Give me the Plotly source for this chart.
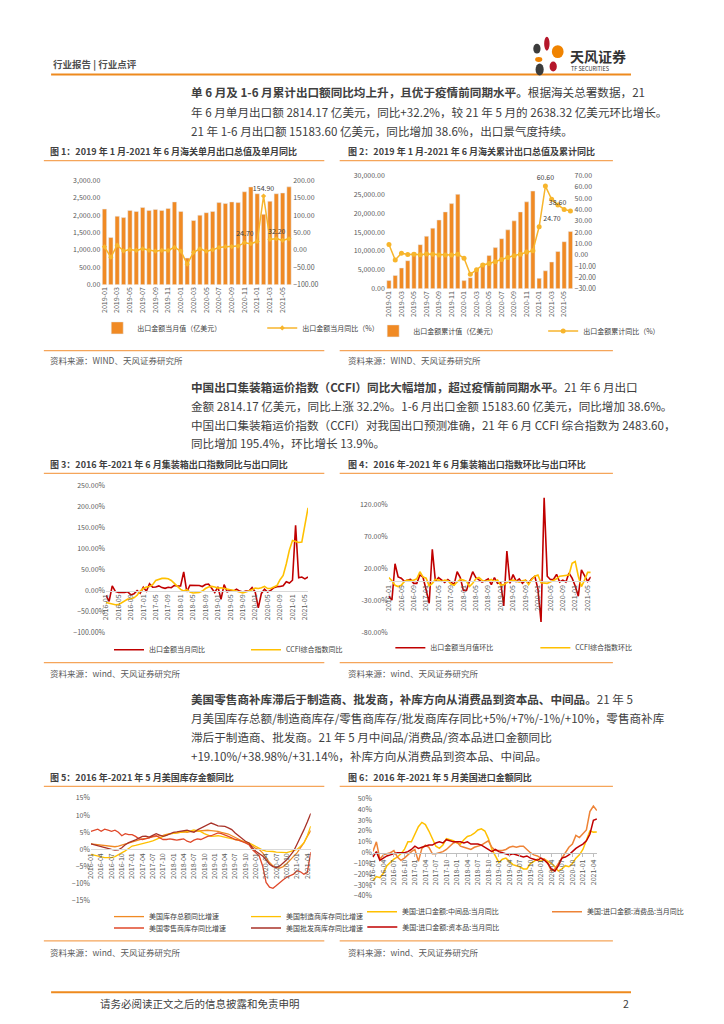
import plotly.graph_objects as go
import pandas as pd

W, H = 724, 1024
FONT = "Noto Sans CJK SC"

# ---------------- data ----------------
months_1921 = pd.date_range("2019-01", periods=30, freq="MS").strftime("%Y-%m").tolist()
ticks_fig12 = ["2019-01", "2019-03", "2019-05", "2019-07", "2019-09", "2019-11",
               "2020-01", "2020-03", "2020-05", "2020-07", "2020-09", "2020-11",
               "2021-01", "2021-03", "2021-05"]

export_monthly = [2175, 1359, 1969, 1931, 2138, 2109, 2222, 2138, 2166, 2138, 2194, 2381,
                  2109, 769, 1847, 2000, 2072, 2109, 2362, 2334, 2381, 2362, 2672, 2812,
                  2616, 2025, 2400, 2616, 2638, 2814]
export_monthly_yoy = [9.1, -20.7, 14.0, -2.7, 1.1, -1.3, 3.3, -1.0, -3.2, -0.9, -1.1, 7.6,
                      -3.0, -40.6, -6.6, 3.5, -3.3, 0.5, 7.2, 9.5, 9.9, 11.4, 21.1, 18.1,
                      24.7, 154.9, 30.6, 32.3, 27.9, 32.2]
labels_fig1 = {"2021-01": "top left", "2021-02": "top center", "2021-06": "top left"}

export_cum = [2175, 3534, 5503, 7434, 9572, 11681, 13903, 16041, 18207, 20345, 22539, 24990,
              2163, 2941, 4717, 6717, 8789, 10898, 13260, 15594, 17975, 20337, 23009, 25864,
              2768, 4760, 7090, 9860, 12456, 15184]
export_cum_yoy = [9.1, -4.6, 1.4, 0.2, 0.5, 0.1, 0.6, 0.4, -0.1, -0.2, -0.3, 0.5,
                  -3.0, -17.2, -13.3, -9.0, -7.7, -6.2, -4.1, -2.3, -0.8, 0.5, 2.5, 3.6,
                  24.7, 60.6, 49.0, 44.0, 40.0, 38.6]
labels_fig2 = {"2021-01": "top right", "2021-02": "top center", "2021-06": "top left"}

months_16_66 = pd.date_range("2016-01", periods=66, freq="MS").strftime("%Y-%m").tolist()
ticks_fig34 = ["2016-01", "2016-05", "2016-09", "2017-01", "2017-05", "2017-09",
               "2018-01", "2018-05", "2018-09", "2019-01", "2019-05", "2019-09",
               "2020-01", "2020-05", "2020-09", "2021-01", "2021-05"]

export_yoy_66 = [-11.2, -25.4, 11.5, -1.8, -4.1, -4.8, -4.4, -2.8, -10.0, -7.3, 0.1, -6.1,
                 7.9, -1.3, 16.4, 8.0, 8.7, 11.3, 7.2, 5.5, 8.1, 6.9, 12.3, 10.9,
                 11.1, 44.5, -2.7, 12.9, 12.6, 11.3, 12.2, 9.8, 14.5, 15.6, 5.4, -4.4,
                 9.1, -20.7, 14.2, -2.7, 1.1, -1.3, 3.3, -1.0, -3.2, -0.9, -1.1, 7.6,
                 -3.0, -40.6, -6.6, 3.5, -3.3, 0.5, 7.2, 9.5, 9.9, 11.4, 21.1, 18.1,
                 24.7, 154.9, 30.6, 32.3, 27.9, 32.2]
ccfi_yoy_66 = [-28, -30, -32, -33.5, -33, -29, -24, -20, -19, -17, -11, -1,
               5, 8.6, 10, 14, 24, 27, 29, 29, 28, 24, 18, 10,
               3, -1, 2.3, -3, -5.5, -5.5, -4, -1, 5, 8.6, 10, 8.6,
               6, 7, 5, 3, 2.3, 1, -1, -4, -5.5, -3, -1, 2.3,
               6, 5, 7, 10, 5, 5, 8.6, 12, 26, 36, 63, 96,
               119, 116, 114, 115, 157, 196]

export_mom_66 = [-23, -29, 27.5, 7, 5, 0, 2, 3, -3, -3, 10, 6.5,
                 -13, -34, 50, 0, 6, 2.6, -1.5, 3, -1, -5, 15, 6,
                 -14, -14, 1, 15, 6, 2, -1, 1, 4, -5, 6, -3,
                 -2, -38, 47, -3, 10.5, 0, 4, -3, 1.6, -2.4, 4, 7.8,
                 -12, -63, 130, 8, 3, 3, 11, -1, 2, -1, 13, 5,
                 -7, -23, 18, 9, 0, 7]
ccfi_mom_66 = [6, 1, -6, -8, -6, 0, 2, 1, 2, 4, 15, 7,
               5, -7, -3, 3, 2, 0, 2, 1, -4, -6, -1, 3,
               2, 0, -8, -3, 4, 6, 2, 0, 1, 3, 0, 2,
               -6, -5, -2, 1, 2, 0, -1, 1, 2, -5, 3, 8,
               10, -2, -2, -3, -1, 1, 4, 8, 9, 9, 10, 28,
               31, 8, -8, 2, 14, 14]
yticks_fig4 = [-80, -30, 20, 70, 120]
yticktext_fig4 = ["-80.00%", "-30.00%", "20.00%", "70.00%", "120.00%"]

months_16_65 = pd.date_range("2016-01", periods=65, freq="MS").strftime("%Y-%m").tolist()
ticks_fig56 = ["2016-01", "2016-04", "2016-07", "2016-10", "2017-01", "2017-04", "2017-07",
               "2017-10", "2018-01", "2018-04", "2018-07", "2018-10", "2019-01", "2019-04",
               "2019-07", "2019-10", "2020-01", "2020-04", "2020-07", "2020-10", "2021-01",
               "2021-04"]

inv_total = [1.6, 1.5, 1.4, 1.2, 1.1, 1.0, 0.9, 0.8, 1.0, 1.3, 1.6, 1.9,
             2.3, 2.6, 3.0, 3.1, 3.2, 3.5, 3.7, 3.8, 3.9, 4.1, 4.4, 4.6,
             4.7, 4.8, 5.0, 5.1, 5.0, 5.2, 5.3, 5.4, 5.3, 5.5, 5.6, 5.5,
             5.5, 5.3, 5.0, 4.8, 4.5, 4.0, 3.5, 3.0, 2.4, 2.0, 1.6, 1.0,
             0.3, 0.0, -1.0, -2.4, -3.8, -4.8, -5.3, -5.4, -5.0, -4.2, -3.0, -2.0,
             -1.0, 0.5, 1.9, 3.8, 5.5]
inv_manu = [-1.4, -1.7, -1.9, -2.2, -2.4, -2.4, -2.4, -2.1, -1.6, -1.0, -0.4, 0.3,
            1.0, 1.2, 1.4, 1.7, 1.9, 2.2, 2.5, 2.9, 3.3, 3.8, 4.2, 4.6,
            4.7, 4.8, 4.9, 5.0, 5.2, 5.4, 5.7, 5.5, 5.2, 4.6, 4.1, 3.8,
            3.9, 4.0, 3.8, 3.6, 3.4, 3.1, 2.9, 2.6, 2.4, 2.1, 1.9, 1.4,
            0.9, 0.2, -0.2, -0.5, -0.5, -0.6, -0.8, -0.9, -1.0, -0.9, -0.6, -0.3,
            0.0, 0.9, 1.9, 4.0, 6.8]
inv_retail = [5.3, 5.6, 5.9, 5.3, 5.9, 5.6, 5.3, 5.6, 5.0, 4.0, 4.6, 4.3,
              4.3, 3.8, 3.1, 2.9, 3.1, 3.4, 3.8, 4.0, 3.4, 2.9, 2.9, 3.1,
              2.9, 2.7, 2.9, 3.1, 2.4, 2.1, 2.7, 3.1, 2.9, 3.4, 3.8, 4.0,
              4.3, 4.8, 4.6, 4.3, 3.8, 3.4, 2.9, 2.7, 2.4, 1.9, 1.4, 0.0,
              -1.0, -1.9, -4.8, -9.6, -11.0, -11.3, -10.5, -9.6, -8.8, -8.1, -7.7, -7.2,
              -6.2, -6.5, -7.2, -6.7, -0.8]
inv_whole = [1.6, 1.3, 1.0, 0.7, 0.4, 0.2, 0.0, -0.2, -0.1, 0.5, 1.4, 2.0,
             2.3, 2.8, 3.3, 3.8, 3.9, 3.6, 4.1, 4.6, 4.2, 3.8, 4.1, 4.6,
             5.0, 5.1, 5.3, 5.4, 5.6, 5.3, 5.0, 5.7, 6.2, 6.7, 7.2, 7.7,
             7.3, 6.9, 6.8, 6.7, 6.3, 5.8, 4.8, 4.0, 3.1, 2.4, 1.9, 0.5,
             -0.5, -1.2, -1.9, -3.0, -4.3, -5.0, -5.3, -4.8, -4.0, -3.0, -1.8, -0.5,
             1.5, 3.5, 5.7, 8.0, 10.5]

imp_inter = [-26, -22, -23, -19, -12, -9, -6, -4, -1, 3, 10, 10,
             17, 24, 28, 26, 20, 13, 6, 4, 7, 13, 12, 11,
             9, 8, 12, 15, 16, 18, 21, 22, 20, 13, 3, -3,
             -9, -6, -5, -8, -11, -12, -13, -15, -15, -10, -8, -6,
             -8, -6, -8, -10, -13, -17, -15, -12, -13, -10, -5, -2,
             3, 12, 20, 19, 19.1]
imp_cons = [1, 10, -6, -2, -1, 0, 2, -4, -7, -5, -2, 1,
            3, -8, 4, 7, 5, -1, -1, 0, 1, 3, 6, 9,
            10, 6, 5, 4, 3, 5, 6, 7, 9, 11, 5, 2,
            2, 2, 3, 5, 6, 5, 6, 6, 3, 0, -2, -3,
            -5, -6, -10, -17, -15, -10, -5, 1, 5, 8, 16, 14,
            18, 21, 38, 43, 38.98]
imp_cap = [-4, 1, -7, -5, -3, -2, -1, 0, 0, 0, 1, 3,
           6, 4, 5, 6, 7, 7, 9, 10, 9, 12, 11, 10,
           10, 10, 9, 10, 8, 8, 8, 7, 5, 3, 1, 3,
           1, 0, -1, -2, -1, -2, -3, -4, -3, -5, -6, -7,
           -5, -7, -10, -15, -17, -12, -5, -4, -2, 1, 4, 6,
           8, 11, 17, 30, 31.14]

# ---------------- helpers ----------------
def X(p):
    return p / W


def Y(p):
    return 1 - p / H


BAR = "#F08A24"
YEL = "#F7B52C"
RED = "#C00000"
GOLD = "#FFC000"
RULE = "#F5A55A"
TICK = dict(size=7, color="#595959", family=FONT)


def point_labels(months, values, which):
    text = [f"{v:.2f}" if m in which else "" for m, v in zip(months, values)]
    pos = [which.get(m, "top center") for m in months]
    return text, pos


fig = go.Figure()

# ---- Fig 1 ----
t1, p1 = point_labels(months_1921, export_monthly_yoy, labels_fig1)
fig.add_trace(go.Bar(x=months_1921, y=export_monthly, marker_color=BAR, width=0.68,
                     name="出口金额当月值（亿美元）", xaxis="x", yaxis="y", legend="legend"))
fig.add_trace(go.Scatter(x=months_1921, y=export_monthly_yoy, mode="lines+markers+text",
                         text=t1, textposition=p1, cliponaxis=False,
                         textfont=dict(size=7, color="#404040", family=FONT),
                         line=dict(color=YEL, width=1.5), marker=dict(symbol="diamond", size=4, color=YEL),
                         name="出口金额当月同比（%）", xaxis="x", yaxis="y2", legend="legend"))
# ---- Fig 2 ----
t2, p2 = point_labels(months_1921, export_cum_yoy, labels_fig2)
fig.add_trace(go.Bar(x=months_1921, y=export_cum, marker_color=BAR, width=0.68,
                     name="出口金额累计值（亿美元）", xaxis="x2", yaxis="y3", legend="legend2"))
fig.add_trace(go.Scatter(x=months_1921, y=export_cum_yoy, mode="lines+markers+text",
                         text=t2, textposition=p2, cliponaxis=False,
                         textfont=dict(size=7, color="#404040", family=FONT),
                         line=dict(color=YEL, width=1.5), marker=dict(symbol="circle", size=5, color=YEL),
                         name="出口金额累计同比（%）", xaxis="x2", yaxis="y4", legend="legend2"))
# ---- Fig 3 ----
fig.add_trace(go.Scatter(x=months_16_66, y=export_yoy_66, mode="lines", line=dict(color=RED, width=1.6),
                         name="出口金额当月同比", xaxis="x3", yaxis="y5", legend="legend3"))
fig.add_trace(go.Scatter(x=months_16_66, y=ccfi_yoy_66, mode="lines", line=dict(color=GOLD, width=1.6),
                         name="CCFI综合指数同比", xaxis="x3", yaxis="y5", legend="legend3"))
# ---- Fig 4 ----
fig.add_trace(go.Scatter(x=months_16_66, y=export_mom_66, mode="lines", line=dict(color=RED, width=1.6),
                         name="出口金额当月值环比", xaxis="x4", yaxis="y6", legend="legend4"))
fig.add_trace(go.Scatter(x=months_16_66, y=ccfi_mom_66, mode="lines", line=dict(color=GOLD, width=1.6),
                         name="CCFI综合指数环比", xaxis="x4", yaxis="y6", legend="legend4"))
# ---- Fig 5 ----
fig.add_trace(go.Scatter(x=months_16_65, y=inv_total, mode="lines", line=dict(color="#F08A24", width=1.3),
                         name="美国库存总额同比增速", xaxis="x5", yaxis="y7", legend="legend5"))
fig.add_trace(go.Scatter(x=months_16_65, y=inv_manu, mode="lines", line=dict(color=GOLD, width=1.3),
                         name="美国制造商库存同比增速", xaxis="x5", yaxis="y7", legend="legend5"))
fig.add_trace(go.Scatter(x=months_16_65, y=inv_retail, mode="lines", line=dict(color="#E0482A", width=1.3),
                         name="美国零售商库存同比增速", xaxis="x5", yaxis="y7", legend="legend6"))
fig.add_trace(go.Scatter(x=months_16_65, y=inv_whole, mode="lines", line=dict(color="#A83228", width=1.3),
                         name="美国批发商库存同比增速", xaxis="x5", yaxis="y7", legend="legend6"))
# ---- Fig 6 ----
fig.add_trace(go.Scatter(x=months_16_65, y=imp_inter, mode="lines", line=dict(color=GOLD, width=1.5),
                         name="美国:进口金额:中间品:当月同比", xaxis="x6", yaxis="y8", legend="legend7"))
fig.add_trace(go.Scatter(x=months_16_65, y=imp_cons, mode="lines", line=dict(color="#EE8336", width=1.5),
                         name="美国:进口金额:消费品:当月同比", xaxis="x6", yaxis="y8", legend="legend7"))
fig.add_trace(go.Scatter(x=months_16_65, y=imp_cap, mode="lines", line=dict(color=RED, width=1.5),
                         name="美国:进口金额:资本品:当月同比", xaxis="x6", yaxis="y8", legend="legend8"))

# ---------------- axes ----------------
def yax(top, bot, rng, anchor, **kw):
    d = dict(domain=[Y(bot), Y(top)], range=rng, anchor=anchor, showgrid=False, zeroline=False,
             showline=False, ticks="", tickfont=TICK)
    d.update(kw)
    return d


def xcat(left, right, rng, tickvals, **kw):
    d = dict(domain=[X(left), X(right)], type="category", range=rng, tickvals=tickvals,
             tickangle=-90, tickfont=TICK, showgrid=False, zeroline=False, ticks="")
    d.update(kw)
    return d


def zero_pos(top, bot, rng):
    frac = (0 - rng[0]) / (rng[1] - rng[0])
    return Y(bot) + (Y(top) - Y(bot)) * frac


r3, r4, r5, r6 = [-100, 250], [-80, 135], [-15, 15], [-40, 50]
fig.update_layout(
    xaxis=xcat(96.5, 307.5, [-0.5, 29.5], ticks_fig12, anchor="y", showline=False),
    yaxis=yax(168, 273.5, [0, 3000], "x", dtick=500, tickformat=",.2f"),
    yaxis2=yax(168, 273.5, [-100, 200], "x", overlaying="y", side="right", dtick=50, tickformat=".2f"),
    xaxis2=xcat(411, 618.5, [-0.5, 29.5], ticks_fig12, anchor="y3", showline=False),
    yaxis3=yax(163, 277.5, [0, 30000], "x2", dtick=5000, tickformat=",.2f"),
    yaxis4=yax(163, 277.5, [-30, 70], "x2", overlaying="y3", side="right", dtick=10, tickformat=".2f"),
    xaxis3=xcat(101.7, 325, [0, 65], ticks_fig34, anchor="free", position=zero_pos(475.7, 625, r3),
                showline=True, linecolor="#D9D9D9", linewidth=1),
    yaxis5=yax(475.7, 625, r3, "x3", dtick=50, tickformat=".2f", ticksuffix="%"),
    xaxis4=xcat(414.3, 637.5, [0, 65], ticks_fig34, anchor="free", position=zero_pos(485.25, 625, r4),
                showline=True, linecolor="#D9D9D9", linewidth=1),
    yaxis6=yax(485.25, 625, r4, "x4", tickvals=yticks_fig4, ticktext=yticktext_fig4),
    xaxis5=xcat(85, 328, [0, 64], ticks_fig56, anchor="free", position=zero_pos(791.7, 895.7, r5),
                showline=True, linecolor="#D9D9D9", linewidth=1),
    yaxis7=yax(791.7, 895.7, r5, "x5", dtick=5, tickformat="d", ticksuffix="%"),
    xaxis6=xcat(396.7, 644.3, [0, 64], ticks_fig56, anchor="free", position=zero_pos(792.3, 890.7, r6),
                showline=True, linecolor="#BFBFBF", linewidth=1, ticks="outside", ticklen=3, tickcolor="#BFBFBF"),
    yaxis8=yax(792.3, 890.7, r6, "x6", dtick=10, tickformat="d", ticksuffix="%"),
)

# ---------------- legends ----------------
def leg(x, y, ew):
    return dict(orientation="h", x=X(x), y=Y(y), xanchor="left", yanchor="middle",
                entrywidth=ew, entrywidthmode="pixels", itemwidth=30, bgcolor="rgba(0,0,0,0)",
                font=dict(size=7, color="#404040", family=FONT), tracegroupgap=0)


fig.update_layout(
    legend=leg(92, 317, 120),
    legend2=leg(397, 320, 125),
    legend3=leg(105, 642, 92),
    legend4=leg(416, 640, 100),
    legend5=leg(105, 911.5, 92),
    legend6=leg(105, 923, 92),
    legend7=leg(385, 906.5, 140),
    legend8=leg(385, 922, 140),
)

# ---------------- text ----------------
ann = []


def txt(x, y, s, size=12, color="#404040", anchor="left", **kw):
    ann.append(dict(x=X(x), y=Y(y), xref="paper", yref="paper", text=s, showarrow=False,
                    xanchor=anchor, yanchor="middle", font=dict(size=size, color=color, family=FONT), **kw))


txt(41, 50, "<b>行业报告 | 行业点评</b>", size=9.5, color="#505050")
txt(612, 42, "<b>天风证券</b>", size=14, color="#333333")
txt(613, 56, "TF SECURITIES", size=5.5, color="#333333")

P = 11.6
para1 = ["<b>单 6 月及 1-6 月累计出口额同比均上升，且优于疫情前同期水平。</b>根据海关总署数据，21",
         "年 6 月单月出口额 2814.17 亿美元，同比+32.2%，较 21 年 5 月的 2638.32 亿美元环比增长。",
         "21 年 1-6 月出口额 15183.60 亿美元，同比增加 38.6%，出口景气度持续。"]
for i, s in enumerate(para1):
    txt(193, 79 + i * 19.5, s, size=P)
para2 = ["<b>中国出口集装箱运价指数（CCFI）同比大幅增加，超过疫情前同期水平。</b>21 年 6 月出口",
         "金额 2814.17 亿美元，同比上涨 32.2%。1-6 月出口金额 15183.60 亿美元，同比增加 38.6%。",
         "中国出口集装箱运价指数（CCFI）对我国出口预测准确，21 年 6 月 CCFI 综合指数为 2483.60，",
         "同比增加 195.4%，环比增长 13.9%。"]
for i, s in enumerate(para2):
    txt(193, 377 + i * 18.8, s, size=P)
para3 = ["<b>美国零售商补库滞后于制造商、批发商，补库方向从消费品到资本品、中间品。</b>21 年 5",
         "月美国库存总额/制造商库存/零售商库存/批发商库存同比+5%/+7%/-1%/+10%，零售商补库",
         "滞后于制造商、批发商。21 年 5 月中间品/消费品/资本品进口金额同比",
         "+19.10%/+38.98%/+31.14%，补库方向从消费品到资本品、中间品。"]
for i, s in enumerate(para3):
    txt(193, 692 + i * 19, s, size=P)

TS = 9
txt(38, 139, "<b>图 1：2019 年 1 月-2021 年 6 月海关单月出口总值及单月同比</b>", size=TS)
txt(367, 139, "<b>图 2：2019 年 1 月-2021 年 6 月海关累计出口总值及累计同比</b>", size=TS)
txt(38, 455, "<b>图 3：2016 年-2021 年 6 月集装箱出口指数同比与出口同比</b>", size=TS)
txt(367, 455, "<b>图 4：2016 年-2021 年 6 月集装箱出口指数环比与出口环比</b>", size=TS)
txt(38, 771, "<b>图 5：2016 年-2021 年 5 月美国库存金额同比</b>", size=TS)
txt(367, 771, "<b>图 6：2016 年-2021 年 5 月美国进口金额同比</b>", size=TS)

SS = 8.5
txt(38, 349, "资料来源：WIND、天风证券研究所", size=SS, color="#595959")
txt(367, 349, "资料来源：WIND、天风证券研究所", size=SS, color="#595959")
txt(38, 665, "资料来源：wind、天风证券研究所", size=SS, color="#595959")
txt(367, 665, "资料来源：wind、天风证券研究所", size=SS, color="#595959")
txt(38, 947, "资料来源：wind、天风证券研究所", size=SS, color="#595959")
txt(367, 947, "资料来源：wind、天风证券研究所", size=SS, color="#595959")

txt(93, 999, "请务必阅读正文之后的信息披露和免责申明", size=10.5, color="#404040")
txt(677, 999, "2", size=10.5, color="#404040", anchor="center")

# ---------------- shapes ----------------
shapes = []


def hline(x0, x1, y, color=RULE, w=1.2):
    shapes.append(dict(type="line", xref="paper", yref="paper", x0=X(x0), x1=X(x1), y0=Y(y), y1=Y(y),
                       line=dict(color=color, width=w)))


hline(41, 682, 61, "#EE8A1E", 2)
hline(41, 682, 988, "#EE8A1E", 2)
for y in (148, 340, 464, 655, 780, 936):
    hline(33, 343, y)
    hline(360, 662, y)


def blob(cx, cy, w, h, color):
    shapes.append(dict(type="circle", xref="paper", yref="paper", x0=X(cx - w / 2), x1=X(cx + w / 2),
                       y0=Y(cy + h / 2), y1=Y(cy - h / 2), fillcolor=color, line=dict(width=0)))


blob(578, 35, 8, 10, "#3C3C3C")
blob(589, 30, 6, 14, "#B5172B")
blob(601, 38, 13, 13, "#F08300")
blob(580, 46, 8, 5, "#F08300")
blob(581, 56, 9, 12, "#3C3C3C")
blob(596, 53, 8, 10, "#B5172B")

fig.update_layout(
    width=W, height=H, margin=dict(l=0, r=0, t=0, b=0),
    paper_bgcolor="white", plot_bgcolor="white",
    bargap=0.3, annotations=ann, shapes=shapes,
    font=dict(family=FONT),
)

fig.write_html("out.html")
